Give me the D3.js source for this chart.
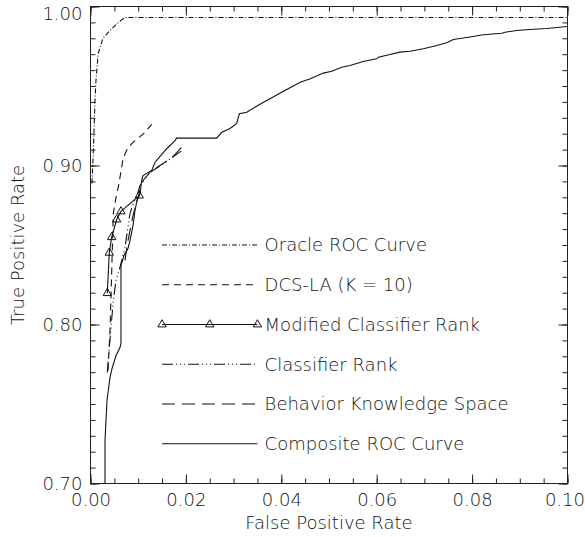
<!DOCTYPE html>
<html><head><meta charset="utf-8">
<script src="https://cdn.jsdelivr.net/npm/d3@7"></script>
<style>
body{margin:0;background:#fff;}
text{font-family:"DejaVu Sans",sans-serif;font-weight:200;font-size:18px;fill:#111;}
</style></head><body>
<svg id="c" width="585" height="537"></svg>
<script>
// ---- data ----
const xTickValues = [0.00, 0.02, 0.04, 0.06, 0.08, 0.10];
const xTickLabels = ["0.00", "0.02", "0.04", "0.06", "0.08", "0.10"];
const yTickValues = [0.70, 0.80, 0.90, 1.00];
const yTickLabels = ["0.70", "0.80", "0.90", "1.00"];

const oracleX = [0.0003, 0.0006, 0.00094, 0.00115, 0.0016, 0.0026, 0.0041, 0.0058, 0.0072, 0.1];
const oracleY = [0.8887, 0.9094, 0.9409, 0.9535, 0.9704, 0.9799, 0.9849, 0.9899, 0.9931, 0.9931];

const dcsX = [0.00367, 0.00409, 0.00451, 0.00478, 0.00549, 0.00583, 0.00654, 0.00688, 0.00792, 0.00897, 0.01107, 0.01283];
const dcsY = [0.7711, 0.7962, 0.8403, 0.8698, 0.8824, 0.8864, 0.8989, 0.9052, 0.9115, 0.9147, 0.9199, 0.9258];

const modX = [0.00352, 0.00394, 0.00444, 0.00549, 0.00639, 0.01023];
const modY = [0.8197, 0.8451, 0.8549, 0.8660, 0.8711, 0.8811];

const crX = [0.00352, 0.00394, 0.00478, 0.00535, 0.00618, 0.00723, 0.00828, 0.00897, 0.00975, 0.01038, 0.01247, 0.01562, 0.01918];
const crY = [0.7698, 0.7855, 0.8151, 0.8277, 0.8360, 0.8486, 0.8698, 0.8761, 0.8811, 0.8874, 0.8956, 0.9019, 0.9094];

const bksX = [0.00723, 0.00786, 0.00891, 0.00975, 0.01038, 0.01101, 0.01247, 0.01457, 0.01709, 0.01981];
const bksY = [0.8403, 0.8528, 0.8686, 0.8780, 0.8843, 0.8906, 0.8956, 0.9000, 0.9050, 0.9138];

const compX = [0.00304, 0.00304, 0.00346, 0.00409, 0.00451, 0.00535, 0.00618, 0.00639, 0.00639, 0.00702, 0.00786, 0.00828, 0.00891, 0.00933, 0.00975, 0.01038, 0.01073, 0.01101, 0.01283, 0.01352, 0.01457, 0.01604, 0.01771, 0.01803, 0.02646, 0.02751, 0.02925, 0.03065, 0.03119, 0.03275, 0.03543, 0.03763, 0.04008, 0.04397, 0.04607, 0.04881, 0.05057, 0.05266, 0.05440, 0.05719, 0.06000, 0.06034, 0.06279, 0.06488, 0.06698, 0.06977, 0.07258, 0.07468, 0.07606, 0.07920, 0.08235, 0.08621, 0.08690, 0.08935, 0.09214, 0.09564, 0.09990];
const compY = [0.7000, 0.7270, 0.7522, 0.7667, 0.7723, 0.7805, 0.7855, 0.7881, 0.8371, 0.8434, 0.8478, 0.8528, 0.8623, 0.8717, 0.8780, 0.8824, 0.8906, 0.8937, 0.8969, 0.9019, 0.9057, 0.9107, 0.9157, 0.9172, 0.9172, 0.9209, 0.9233, 0.9264, 0.9325, 0.9335, 0.9384, 0.9420, 0.9461, 0.9524, 0.9545, 0.9581, 0.9593, 0.9618, 0.9629, 0.9654, 0.9671, 0.9681, 0.9698, 0.9713, 0.9719, 0.9734, 0.9755, 0.9772, 0.9792, 0.9807, 0.9822, 0.9832, 0.9838, 0.9849, 0.9855, 0.9862, 0.9874];

const legendLabels = ["Oracle ROC Curve", "DCS-LA (K = 10)", "Modified Classifier Rank", "Classifier Rank", "Behavior Knowledge Space", "Composite ROC Curve"];
const legendRowY = [0.85, 0.825, 0.80, 0.775, 0.75, 0.725];
const legendLineX = [0.015, 0.035];
const legendMarkX = [0.015, 0.025, 0.035];
const legendTextX = 0.0365;

// ---- drawing ----
const svg = d3.select("#c");
const L = 90.5, R = 567.5, T = 6.5, B = 483.5;
const x = d3.scaleLinear().domain([0, 0.1]).range([L, R]);
const y = d3.scaleLinear().domain([0.7, 1.0]).range([B, T]);

const minorX = d3.range(0, 0.1001, 0.005);
const minorY = d3.range(0.70, 1.0001, 0.01);

function axisGroup(axis, tx, ty) {
  const g = svg.append("g").attr("transform", `translate(${tx},${ty})`).call(axis);
  g.select(".domain").remove();
  g.selectAll(".tick line").attr("stroke", "#222").attr("stroke-width", 1);
  return g;
}
// minor ticks
axisGroup(d3.axisBottom(x).tickValues(minorX).tickSize(-5).tickFormat(""), 0, B);
axisGroup(d3.axisTop(x).tickValues(minorX).tickSize(-5).tickFormat(""), 0, T);
axisGroup(d3.axisLeft(y).tickValues(minorY).tickSize(-5).tickFormat(""), L, 0);
axisGroup(d3.axisRight(y).tickValues(minorY).tickSize(-5).tickFormat(""), R, 0);
// major ticks
const gx = axisGroup(d3.axisBottom(x).tickValues(xTickValues).tickSize(-9).tickPadding(16).tickFormat((d, i) => xTickLabels[i]), 0, B);
axisGroup(d3.axisTop(x).tickValues(xTickValues).tickSize(-9).tickFormat(""), 0, T);
const gy = axisGroup(d3.axisLeft(y).tickValues(yTickValues).tickSize(-9).tickPadding(8).tickFormat((d, i) => yTickLabels[i]), L, 0);
axisGroup(d3.axisRight(y).tickValues(yTickValues).tickSize(-9).tickFormat(""), R, 0);
svg.selectAll(".tick text").style("font-family", '"DejaVu Sans",sans-serif').style("font-size", "18px")
  .style("font-weight", "200").attr("fill", "#111");
gx.selectAll(".tick text").attr("dy", "0.35em");
gx.selectAll(".tick").filter(d => d === 0.1).select("text").attr("text-anchor", "end").attr("x", 17);
gy.selectAll(".tick text").attr("dy", "0.36em");
gy.selectAll(".tick").filter(d => d === 1.0).select("text").attr("dy", "0.7em");

// frame
svg.append("rect").attr("x", L).attr("y", T).attr("width", R - L).attr("height", B - T)
  .attr("fill", "none").attr("stroke", "#222").attr("stroke-width", 1);

// titles
svg.append("text").attr("x", 329).attr("y", 529).attr("text-anchor", "middle").text("False Positive Rate");
svg.append("text").attr("transform", `translate(24,245) rotate(-90)`).attr("text-anchor", "middle").text("True Positive Rate");

// clip
svg.append("clipPath").attr("id", "clip").append("rect").attr("x", L).attr("y", T).attr("width", R - L).attr("height", B - T);
const plot = svg.append("g").attr("clip-path", "url(#clip)");

const line = d3.line().x(d => x(d[0])).y(d => y(d[1]));
const zip = (a, b) => a.map((v, i) => [v, b[i]]);

const styles = [
  {dash: "5,2,1,2"},        // oracle
  {dash: "7,5"},            // dcs
  {dash: null},             // modified
  {dash: "11,3,1,3,1,3,1,3"}, // classifier rank
  {dash: "13,7"},           // bks
  {dash: null}              // composite
];
const series = [zip(oracleX, oracleY), zip(dcsX, dcsY), zip(modX, modY), zip(crX, crY), zip(bksX, bksY), zip(compX, compY)];

series.forEach((s, i) => {
  plot.append("path").datum(s).attr("d", line).attr("fill", "none")
    .attr("stroke", "#111").attr("stroke-width", 1.1)
    .attr("stroke-dasharray", styles[i].dash);
});
const tri = d3.symbol().type(d3.symbolTriangle).size(30);
plot.selectAll(".mk").data(series[2]).join("path")
  .attr("transform", d => `translate(${x(d[0])},${y(d[1])})`)
  .attr("d", tri).attr("fill", "none").attr("stroke", "#111").attr("stroke-width", 1);

// legend
legendRowY.forEach((ly, i) => {
  svg.append("path").datum([[legendLineX[0], ly], [legendLineX[1], ly]]).attr("d", line)
    .attr("fill", "none").attr("stroke", "#111").attr("stroke-width", 1.1)
    .attr("stroke-dasharray", styles[i].dash);
  svg.append("text").attr("x", x(legendTextX)).attr("y", y(ly)).attr("dy", "0.36em").text(legendLabels[i]);
});
svg.selectAll(".lmk").data(legendMarkX).join("path")
  .attr("transform", d => `translate(${x(d)},${y(legendRowY[2])})`)
  .attr("d", tri).attr("fill", "none").attr("stroke", "#111").attr("stroke-width", 1);
</script>
</body></html>
